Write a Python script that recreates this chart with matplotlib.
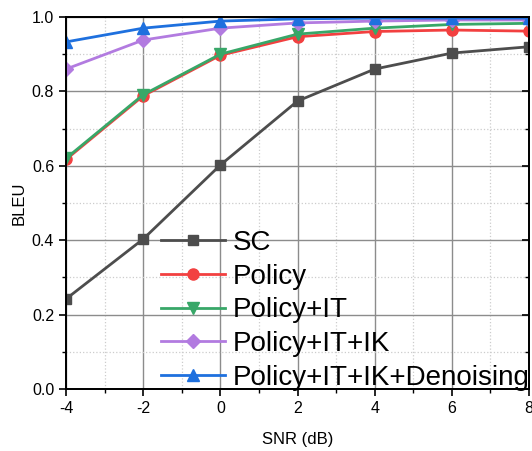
import numpy as np
import matplotlib
matplotlib.use('Agg')
from matplotlib import pyplot as plt
from matplotlib.ticker import MultipleLocator

plt.rcParams['font.family'] = ['Liberation Sans', 'DejaVu Sans']
plt.rcParams['axes.unicode_minus'] = False

snr = [-4, -2, 0, 2, 4, 6, 8]
sc = [0.242, 0.403, 0.602, 0.774, 0.860, 0.903, 0.920]
policy = [0.617, 0.788, 0.897, 0.947, 0.961, 0.965, 0.962]
policy_it = [0.620, 0.791, 0.900, 0.954, 0.970, 0.980, 0.983]
policy_it_ik = [0.860, 0.938, 0.970, 0.984, 0.989, 0.992, 0.992]
denoising = [0.933, 0.970, 0.989, 0.995, 0.997, 0.997, 0.997]

labels = ['SC', 'Policy', 'Policy+IT', 'Policy+IT+IK', 'Policy+IT+IK+Denoising']
series = [sc, policy, policy_it, policy_it_ik, denoising]
colors = ['#4d4d4d', '#f24040', '#38a768', '#b27be0', '#1e70de']
markers = ['s', 'o', 'v', 'D', '^']
msizes = [7, 8, 8, 7, 8]

fig = plt.figure(figsize=(5.32, 4.51), dpi=100)
ax = fig.add_axes([66/532, 1-389/451, (529-66)/532, (389-17)/451])

for y, lab, c, m, ms in zip(series, labels, colors, markers, msizes):
    ax.plot(snr, y, color=c, marker=m, markersize=ms, linewidth=2, label=lab)

ax.set_xlim(-4, 8)
ax.set_ylim(0, 1.0)
ax.xaxis.set_major_locator(MultipleLocator(2))
ax.xaxis.set_minor_locator(MultipleLocator(1))
ax.yaxis.set_major_locator(MultipleLocator(0.2))
ax.yaxis.set_minor_locator(MultipleLocator(0.1))
ax.set_yticks(np.arange(0, 1.01, 0.2))
ax.set_yticklabels(['{:.1f}'.format(v) for v in np.arange(0, 1.01, 0.2)])
ax.grid(which='major', color='#8c8c8c', linewidth=1.0)
ax.grid(which='minor', color='#cccccc', linestyle=':', linewidth=0.9)
ax.set_axisbelow(True)
ax.tick_params(which='major', direction='out', length=5, width=1.2, labelsize=11.5)
ax.tick_params(which='minor', direction='out', length=3, width=1.0)
for s in ax.spines.values():
    s.set_linewidth(1.3)
ax.set_xlabel('SNR (dB)', fontsize=12, labelpad=12)
ax.set_ylabel('BLEU', fontsize=12, labelpad=4)

# inward ticks on the right spine
ax2 = ax.twinx()
ax2.set_ylim(0, 1.0)
ax2.yaxis.set_major_locator(MultipleLocator(0.2))
ax2.yaxis.set_minor_locator(MultipleLocator(0.1))
ax2.tick_params(which='major', direction='in', length=5, width=1.2, labelright=False)
ax2.tick_params(which='minor', direction='in', length=3, width=1.0)
for s in ax2.spines.values():
    s.set_linewidth(1.3)

ax.legend(loc='lower right', frameon=False, fontsize=20, handlelength=2.3,
          handletextpad=0.3, labelspacing=0.28, borderaxespad=0.0,
          bbox_to_anchor=(1.0 + 12/463, -13/372))

fig.savefig('out.png', dpi=100)
